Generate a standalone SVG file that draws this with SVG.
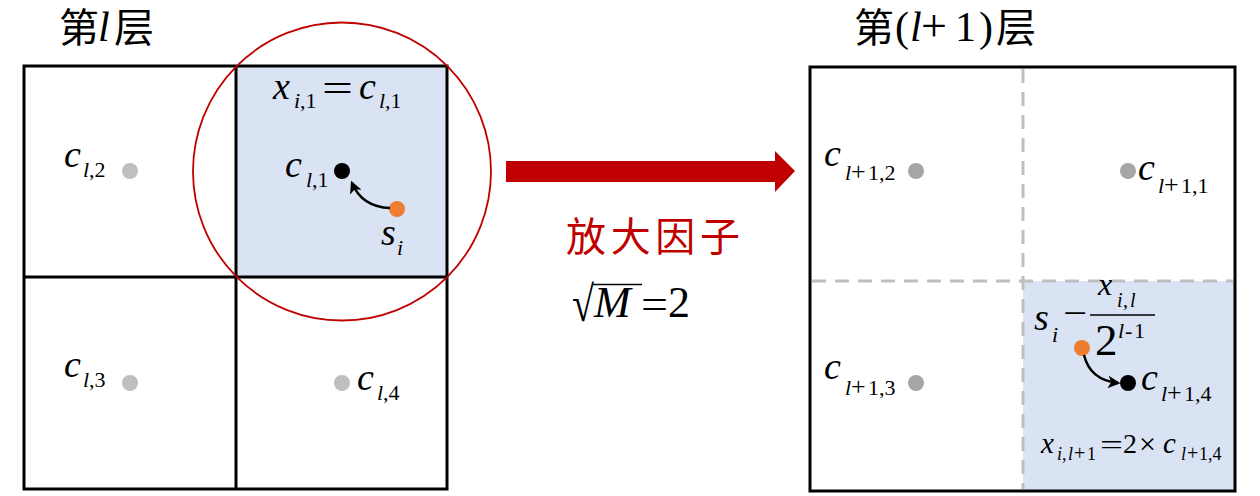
<svg xmlns="http://www.w3.org/2000/svg" width="1260" height="496" viewBox="0 0 1260 496">
<style>
.m{font-family:'Liberation Serif',serif;fill:#000}
.i{font-style:italic}
.big{font-size:38px}
.sub{font-size:22px}
.s2{font-size:26px}
.cjk{font-family:'Noto Sans CJK SC',sans-serif;font-size:40px;fill:#000}
.grid{fill:none;stroke:#000;stroke-width:3}
.dash{stroke:#bfbfbf;stroke-width:3;stroke-dasharray:14 9;fill:none}
.blue{fill:#dae3f3}
.lg{fill:#bfbfbf}
.dg{fill:#a6a6a6}
.bk{fill:#000}
.or{fill:#ed7d31}
.arr{fill:none;stroke:#000;stroke-width:2.5;marker-end:url(#ah)}
</style>
<defs>
<marker id="ah" viewBox="0 0 10 10" refX="8" refY="5" markerWidth="5" markerHeight="5" orient="auto" markerUnits="strokeWidth">
<path d="M0,0 L10,5 L0,10 L2.5,5 Z" fill="#000"/>
</marker>
</defs>
<rect width="1260" height="496" fill="#fff"/>

<g id="left-layer">
<text class="cjk" x="59" y="42" font-size="37">第</text>
<text class="m i" x="98" y="41" font-size="42">l</text>
<text class="cjk" x="114" y="42">层</text>
<rect class="blue" x="236" y="66" width="211" height="211"/>
<rect class="grid" x="24" y="66" width="423" height="423"/>
<line class="grid" x1="236" y1="66" x2="236" y2="489"/>
<line class="grid" x1="24" y1="277" x2="447" y2="277"/>
<circle cx="342" cy="171.5" r="149" fill="none" stroke="#c00000" stroke-width="1.8"/>
</g>

<g id="left-c2">
<circle class="lg" cx="130" cy="171" r="8"/>
<text class="m"><tspan class="i big" x="64" y="167">c</tspan><tspan class="i sub" x="83" y="177">l</tspan><tspan class="sub" x="89" y="177">,2</tspan></text>
</g>
<g id="left-c3">
<circle class="lg" cx="130" cy="383" r="8"/>
<text class="m"><tspan class="i big" x="64" y="377">c</tspan><tspan class="i sub" x="83" y="387">l</tspan><tspan class="sub" x="89" y="387">,3</tspan></text>
</g>
<g id="left-c4">
<circle class="lg" cx="342" cy="383" r="8"/>
<text class="m"><tspan class="i big" x="357" y="390">c</tspan><tspan class="i sub" x="377" y="400">l</tspan><tspan class="sub" x="383" y="400">,4</tspan></text>
</g>
<g id="left-c1">
<circle class="bk" cx="342" cy="171" r="8"/>
<text class="m"><tspan class="i big" x="285" y="177">c</tspan><tspan class="i sub" x="306" y="187">l</tspan><tspan class="sub" x="312" y="187">,1</tspan></text>
</g>
<g id="left-si">
<circle class="or" cx="397" cy="209" r="8"/>
<text class="m"><tspan class="i big" x="381" y="245">s</tspan><tspan class="i sub" x="397" y="255">i</tspan></text>
</g>
<g id="left-eq">
<text class="m"><tspan class="i big" x="273" y="99">x</tspan><tspan class="i sub" x="294" y="108">i</tspan><tspan class="sub" x="300" y="108">,1</tspan></text>
<text class="m" x="322" y="102" font-size="40" textLength="31" lengthAdjust="spacingAndGlyphs">=</text>
<text class="m"><tspan class="i big" x="359" y="99">c</tspan><tspan class="i sub" x="379" y="108">l</tspan><tspan class="sub" x="385" y="108">,1</tspan></text>
</g>

<g id="middle">
<polygon points="506,161 775,161 775,151 795,171 775,192 775,182 506,182" fill="#c00000"/>
<text x="566" y="251" font-family="'Noto Sans CJK SC',sans-serif" font-size="40" fill="#c00000" textLength="174">放大因子</text>
<text class="m" transform="translate(572,321) scale(0.8,1)" font-size="50">√</text>
<line x1="593" y1="284.5" x2="642" y2="284.5" stroke="#000" stroke-width="1.6"/>
<text class="m i" x="594" y="317" font-size="44">M</text>
<text class="m" x="641" y="318" font-size="42" textLength="27" lengthAdjust="spacingAndGlyphs">=</text>
<text class="m" x="668" y="317" font-size="44">2</text>
</g>

<g id="right-layer">
<text class="cjk" x="854" y="42" font-size="39">第</text>
<text class="m" font-size="42"><tspan x="895" y="41">(</tspan><tspan class="i" x="910" y="41">l</tspan><tspan x="921" y="41" font-size="46">+</tspan><tspan x="955" y="41">1</tspan><tspan x="979" y="41">)</tspan></text>
<text class="cjk" x="996" y="42">层</text>
<rect class="blue" x="1023" y="281" width="212" height="210"/>
<line class="dash" x1="1023" y1="69" x2="1023" y2="489"/>
<line class="dash" x1="812" y1="281" x2="1233" y2="281"/>
<rect class="grid" x="810" y="67" width="425" height="424"/>
</g>

<g id="right-c2">
<circle class="dg" cx="916" cy="171" r="8"/>
<text class="m"><tspan class="i big" x="824" y="166">c</tspan><tspan class="i sub" x="845" y="180">l</tspan><tspan class="s2" x="851" y="180">+</tspan><tspan class="sub" x="868" y="180">1,2</tspan></text>
</g>
<g id="right-c1">
<circle class="dg" cx="1128" cy="171" r="8"/>
<text class="m"><tspan class="i big" x="1138" y="180">c</tspan><tspan class="i sub" x="1158" y="193">l</tspan><tspan class="s2" x="1164" y="193">+</tspan><tspan class="sub" x="1181" y="193">1,1</tspan></text>
</g>
<g id="right-c3">
<circle class="dg" cx="916" cy="383" r="8"/>
<text class="m"><tspan class="i big" x="824" y="379">c</tspan><tspan class="i sub" x="845" y="395">l</tspan><tspan class="s2" x="851" y="395">+</tspan><tspan class="sub" x="868" y="395">1,3</tspan></text>
</g>
<g id="right-c4">
<circle class="bk" cx="1128" cy="383" r="8"/>
<text class="m"><tspan class="i big" x="1141" y="390">c</tspan><tspan class="i sub" x="1161" y="401">l</tspan><tspan class="s2" x="1167" y="401">+</tspan><tspan class="sub" x="1184" y="401">1,4</tspan></text>
</g>
<g id="right-si">
<circle class="or" cx="1082" cy="348" r="8"/>
<text class="m"><tspan class="i big" x="1034" y="330">s</tspan><tspan class="i sub" x="1052" y="342">i</tspan></text>
<text class="m" x="1063" y="325" font-size="36" textLength="24" lengthAdjust="spacingAndGlyphs">−</text>
<line x1="1090" y1="315" x2="1155" y2="315" stroke="#000" stroke-width="1.5"/>
<text class="m"><tspan class="i" x="1098" y="295" font-size="32">x</tspan><tspan class="i" x="1117" y="307" font-size="20">i</tspan><tspan x="1123" y="307" font-size="20">,</tspan><tspan class="i" x="1130" y="307" font-size="20">l</tspan></text>
<text class="m"><tspan x="1095" y="355" font-size="45">2</tspan><tspan class="i sub" x="1118" y="338">l</tspan><tspan class="sub" x="1125" y="338">-</tspan><tspan class="sub" x="1134" y="338">1</tspan></text>
</g>
<g id="right-eq">
<text class="m"><tspan class="i" x="1041" y="453" font-size="29">x</tspan><tspan class="i" x="1057" y="460" font-size="18">i</tspan><tspan x="1062" y="460" font-size="18">,</tspan><tspan class="i" x="1068" y="460" font-size="18">l</tspan><tspan x="1074" y="460" font-size="20">+</tspan><tspan x="1087" y="460" font-size="18">1</tspan></text>
<text class="m" x="1100" y="454" font-size="28" textLength="23" lengthAdjust="spacingAndGlyphs">=</text>
<text class="m"><tspan x="1123" y="453" font-size="28">2</tspan><tspan x="1139" y="454" font-size="30">×</tspan><tspan class="i" x="1163" y="453" font-size="29">c</tspan><tspan class="i" x="1181" y="460" font-size="18">l</tspan><tspan x="1187" y="460" font-size="20">+</tspan><tspan x="1199" y="460" font-size="18">1,4</tspan></text>
</g>

<g id="connectors">
<path class="arr" d="M390,208 Q362,207 352,183"/>
<path class="arr" d="M1084,355 Q1090,380 1118,383"/>
</g>
</svg>
